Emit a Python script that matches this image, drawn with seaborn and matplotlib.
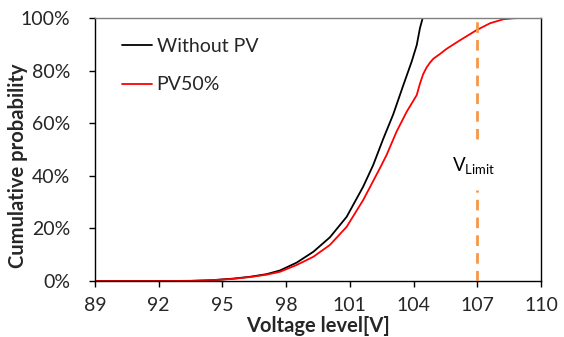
import matplotlib
matplotlib.use("Agg")
import matplotlib.pyplot as plt
import seaborn as sns
import pandas as pd
from matplotlib.ticker import FuncFormatter
from matplotlib.lines import Line2D

# ---- data ----
v_without = [89, 92, 93.5, 94.5, 95.5, 96.3, 97.08, 97.71, 98.5, 99.28, 100.06, 100.85,
             101.63, 102.1, 102.57, 103.04, 103.52, 103.91, 104.15, 104.3, 104.43, 110]
p_without = [0, 0, 0.05, 0.3, 0.9, 1.6, 2.6, 4.0, 7.0, 11.1, 16.6, 24.4,
             35.9, 44.1, 54.0, 63.3, 74.5, 83.4, 89.7, 96.1, 100, 100]

v_pv50 = [89, 92, 93.5, 94.5, 95.5, 96.3, 97.08, 97.71, 98.5, 99.28, 100.06, 100.85,
          101.63, 102.41, 102.73, 103.2, 103.68, 104.15, 104.3, 104.45, 104.6, 104.77,
          104.93, 105.24, 105.56, 106.18, 106.97, 107.6, 108.22, 108.7, 109.0, 110]
p_pv50 = [0, 0, 0.05, 0.3, 0.8, 1.5, 2.4, 3.5, 6.1, 9.2, 13.7, 20.6,
          30.8, 42.8, 47.9, 56.8, 64.4, 70.7, 75.0, 78.6, 81.0, 83.0,
          84.5, 86.3, 88.3, 91.5, 95.4, 98.0, 99.5, 99.9, 100, 100]

series_names = ["Without PV", "PV50%"]
series_colors = ["#000000", "#FF0000"]
x_ticks = [89, 92, 95, 98, 101, 104, 107, 110]
y_ticks = [0, 20, 40, 60, 80, 100]
v_limit = 107
limit_label = r"V$_{\mathregular{Limit}}$"

df = pd.concat([
    pd.DataFrame({"V": v_without, "P": p_without, "series": series_names[0]}),
    pd.DataFrame({"V": v_pv50, "P": p_pv50, "series": series_names[1]}),
], ignore_index=True)

sns.set_style("white")
plt.rcParams["font.family"] = ["Lato", "DejaVu Sans"]
plt.rcParams["mathtext.fontset"] = "custom"
plt.rcParams["mathtext.rm"] = "Lato"

fig = plt.figure(figsize=(5.64, 3.37), dpi=100)
ax = fig.add_axes([0.1684, 0.1662, 0.9592 - 0.1684, 0.9466 - 0.1662])

sns.lineplot(data=df, x="V", y="P", hue="series",
             palette=dict(zip(series_names, series_colors)),
             estimator=None, sort=False, linewidth=1.3, ax=ax, legend=False)
for ln in ax.lines:
    ln.set_solid_joinstyle("round")
    ln.set_solid_capstyle("round")

# V_Limit dashed line with a gap for the label
dash_kw = dict(color="#F79646", linewidth=2.0, linestyle=(0, (3.8, 2.6)), zorder=5)
ax.plot([v_limit, v_limit], [54, 100], **dash_kw)
ax.plot([v_limit, v_limit], [0, 34.6], **dash_kw)
ax.text(v_limit - 0.15, 43.5, limit_label, ha="center", va="center",
        fontsize=13.5, color="#000000")

ax.set_xlim(89, 110)
ax.set_ylim(0, 100)
ax.set_xticks(x_ticks)
ax.set_yticks(y_ticks)
ax.yaxis.set_major_formatter(FuncFormatter(lambda v, _: f"{int(v)}%"))
ax.tick_params(axis="both", which="major", labelsize=14, length=4, width=1,
               direction="out", color="#000000", bottom=True, left=True)
ax.tick_params(axis="x", pad=7.5)
ax.tick_params(axis="y", pad=14)

ax.set_xlabel("Voltage level[V]", fontsize=14.5, fontweight="bold", labelpad=1.5)
ax.set_ylabel("Cumulative probability", fontsize=14.5, fontweight="bold")
ax.yaxis.set_label_coords(-0.150, 0.44)

for side in ["left", "right", "bottom"]:
    ax.spines[side].set_color("#000000")
    ax.spines[side].set_linewidth(1.0)
ax.spines["top"].set_color("#808080")
ax.spines["top"].set_linewidth(1.0)

handles = [Line2D([0], [0], color=c, linewidth=1.3) for c in series_colors]
ax.legend(handles, series_names, loc="upper left", bbox_to_anchor=(0.06, 0.924),
          frameon=False, fontsize=14, handlelength=1.55, handletextpad=0.25,
          labelspacing=1.1, borderaxespad=0, borderpad=0)

fig.savefig("out.png", dpi=100)
